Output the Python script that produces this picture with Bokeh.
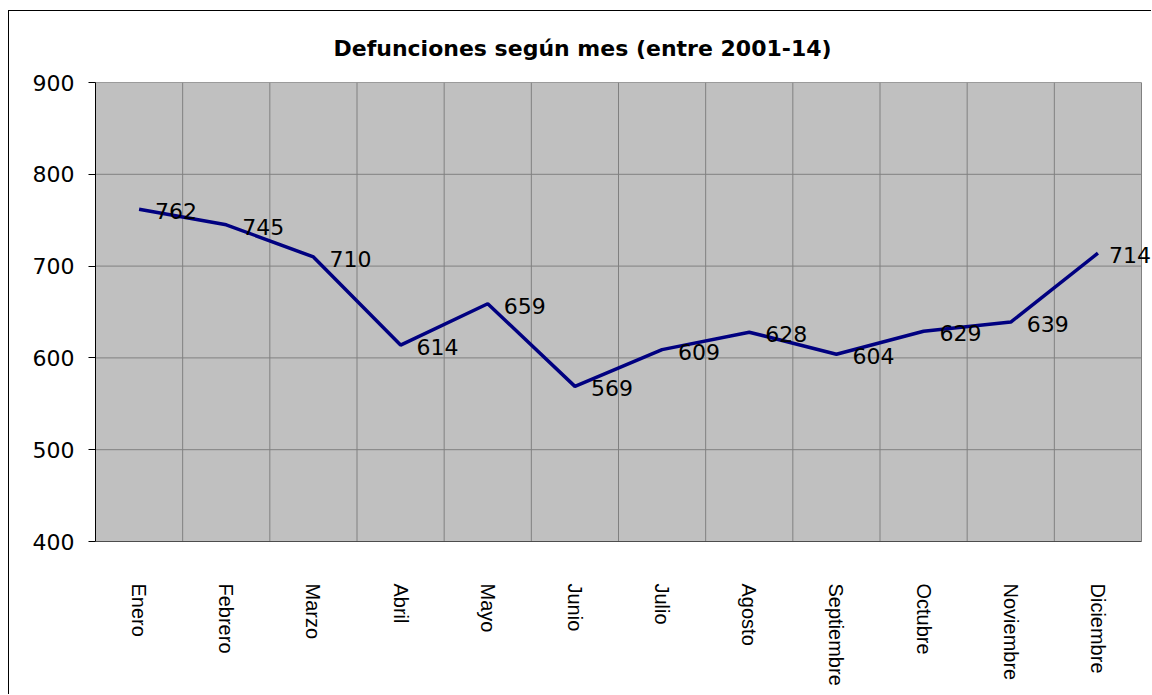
import math
from bokeh.plotting import figure
from bokeh.models import Range1d, LabelSet, ColumnDataSource, FixedTicker
from bokeh.embed import file_html
from bokeh.resources import INLINE
from bokeh.core.properties import value

months = ["Enero", "Febrero", "Marzo", "Abril", "Mayo", "Junio", "Julio",
          "Agosto", "Septiembre", "Octubre", "Noviembre", "Diciembre"]
deaths = [762, 745, 710, 614, 659, 569, 609, 628, 604, 629, 639, 714]
y_ticks = [400, 500, 600, 700, 800, 900]
title_text = "Defunciones según mes (entre 2001-14)"

n = len(months)
x_pos = [i + 0.5 for i in range(n)]          # category centres
labels_txt = [str(v) for v in deaths]
src = ColumnDataSource(dict(x=x_pos, month=months, deaths=deaths, label=labels_txt))
src_main = ColumnDataSource(dict(x=x_pos[:-1], deaths=deaths[:-1], label=labels_txt[:-1]))
src_last = ColumnDataSource(dict(x=x_pos[-1:], deaths=deaths[-1:], label=labels_txt[-1:]))

# frame runs to the right edge of the canvas; categories occupy [0, n]
p = figure(width=1143, height=684,
           x_range=Range1d(0, n * 1057 / 1046),
           y_range=Range1d(y_ticks[0], y_ticks[-1]),
           output_backend="svg", toolbar_location=None,
           min_border_left=86, min_border_right=0,
           min_border_top=71, min_border_bottom=154)
p.margin = (10, 0, 0, 8)
p.styles = {"border-left": "1px solid black", "border-top": "1px solid black"}

p.background_fill_color = "white"
p.border_fill_color = "white"
p.outline_line_color = None
p.xgrid.visible = False
p.ygrid.visible = False

# plot area (gray) with gray border
p.quad(left=0, right=n, bottom=y_ticks[0], top=y_ticks[-1],
       fill_color="#C0C0C0", line_color="#808080", line_width=1)

# gridlines
p.segment(x0=[0] * len(y_ticks), x1=[n] * len(y_ticks), y0=y_ticks, y1=y_ticks,
          line_color="#808080", line_width=1)
p.segment(x0=list(range(1, n)), x1=list(range(1, n)),
          y0=[y_ticks[0]] * (n - 1), y1=[y_ticks[-1]] * (n - 1),
          line_color="#808080", line_width=1)
# bottom axis line (only under the plot area)
p.segment(x0=[0], x1=[n], y0=[y_ticks[0]], y1=[y_ticks[0]], line_color="black", line_width=1)

# title
p.title.text = title_text
p.title.align = "left"
p.title.offset = 238
p.title.standoff = 44
p.title.text_font = "DejaVu Sans"
p.title.text_font_size = "22px"
p.title.text_font_style = "bold"
p.title.text_color = "black"

# axes
p.yaxis.ticker = y_ticks
p.yaxis.major_label_text_font = "DejaVu Sans"
p.yaxis.major_label_text_font_size = "22px"
p.yaxis.major_label_text_color = "black"
p.yaxis.major_tick_out = 7
p.yaxis.major_tick_in = 0
p.yaxis.minor_tick_line_color = None
p.yaxis.axis_line_color = "black"
p.yaxis.major_tick_line_color = "black"
p.yaxis.major_label_standoff = 14

overrides = {}
for xv, m in zip(x_pos, months):
    overrides[xv] = m
    overrides[str(xv)] = m
p.xaxis.ticker = FixedTicker(ticks=x_pos)
p.xaxis.major_label_overrides = overrides
p.xaxis.major_tick_line_color = None
p.xaxis.minor_tick_line_color = None
p.xaxis.axis_line_color = None
p.xaxis.major_label_orientation = -math.pi / 2
p.xaxis.major_label_standoff = 36
p.xaxis.major_label_text_font = "Liberation Sans"
p.xaxis.major_label_text_font_size = "20px"
p.xaxis.major_label_text_color = "black"

p.line(x="x", y="deaths", source=src, line_color="#000080", line_width=3.5)

label_style = dict(text_baseline="middle", text_align="left",
                   text_font=value("DejaVu Sans"), text_font_size=value("22px"),
                   text_color="black", y_offset=-2)
p.add_layout(LabelSet(x="x", y="deaths", text="label", source=src_main,
                      x_offset=16, **label_style))
# last label sits closer to its point so that it stays inside the chart
p.add_layout(LabelSet(x="x", y="deaths", text="label", source=src_last,
                      x_offset=11, **label_style))

open("out.html", "w").write(file_html(p, INLINE))
